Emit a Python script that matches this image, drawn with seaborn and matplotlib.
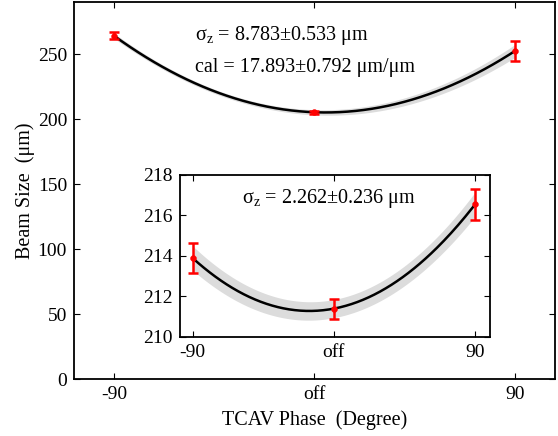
import numpy as np
import pandas as pd
import matplotlib
matplotlib.use("Agg")
import matplotlib.pyplot as plt
import seaborn as sns

# ---- data ----
phase = [-90, 0, 90]
tick_labels = ["-90", "off", "90"]
main_size = [264.0, 205.2, 252.3]
main_err = [2.8, 1.2, 7.5]
main_band = [2.0, 2.0, 5.0]
inset_size = [213.9, 211.4, 216.55]
inset_err = [0.75, 0.5, 0.75]
inset_band = [0.6, 0.45, 0.6]
main_text = [r"σ$_\mathrm{z}$ = 8.783±0.533 μm", "cal = 17.893±0.792 μm/μm"]
inset_text = r"σ$_\mathrm{z}$ = 2.262±0.236 μm"

sns.set_style("white")
plt.rcParams["font.family"] = ["Liberation Serif", "DejaVu Serif"]
plt.rcParams["mathtext.fontset"] = "custom"
plt.rcParams["mathtext.rm"] = "Liberation Serif"
plt.rcParams["font.size"] = 14
for k in ["text.color", "axes.labelcolor", "xtick.color", "ytick.color", "axes.edgecolor"]:
    plt.rcParams[k] = "black"

fig = plt.figure(figsize=(5.58, 4.36), dpi=100)
ax = fig.add_axes([0.1326, 0.1307, 0.862, 0.8647])
axi = fig.add_axes([0.3226, 0.2271, 0.5556, 0.3716])


def draw(a, sizes, errs, band, xlim, ylim, yticks):
    x = np.array(phase, float)
    c = np.polyfit(x, sizes, 2)
    cb = np.polyfit(x, band, 2)
    xs = np.linspace(-90, 90, 200)
    ys = np.polyval(c, xs)
    bs = np.polyval(cb, xs)
    a.fill_between(xs, ys - bs, ys + bs, color="#dcdcdc", lw=0, zorder=1)
    df = pd.DataFrame({"x": xs, "y": ys})
    sns.lineplot(data=df, x="x", y="y", ax=a, color="black", lw=1.8, zorder=2)
    a.errorbar(phase, sizes, yerr=errs, fmt="none", ecolor="red",
               elinewidth=1.8, capsize=3.5, capthick=1.8, zorder=3)
    sns.scatterplot(x=phase, y=sizes, ax=a, color="red", s=18,
                    edgecolor="red", zorder=4)
    a.set_xlim(*xlim)
    a.set_ylim(*ylim)
    a.set_xticks(phase)
    a.set_xticklabels(tick_labels)
    a.set_yticks(yticks)
    a.set_xlabel("")
    a.set_ylabel("")
    a.tick_params(direction="in", length=4, width=0.8, top=True, right=True,
                  bottom=True, left=True, labelsize=14, pad=5, colors="black")
    for s in a.spines.values():
        s.set_visible(True)
        s.set_color("black")
        s.set_linewidth(1.3)


draw(ax, main_size, main_err, main_band, (-108, 108), (0, 290),
     [0, 50, 100, 150, 200, 250])
draw(axi, inset_size, inset_err, inset_band, (-98, 99.5), (210, 218),
     [210, 212, 214, 216, 218])

ax.set_xlabel("TCAV Phase  (Degree)", fontsize=14.5, labelpad=5)
ax.set_ylabel("Beam Size  (μm)", fontsize=14.5, labelpad=2)

ax.text(-53.5, 264, main_text[0], fontsize=14.5, va="center", ha="left")
ax.text(-53.5, 240, main_text[1], fontsize=14.5, va="center", ha="left")
axi.text(-58.7, 216.85, inset_text, fontsize=14.5, va="center", ha="left")

fig.savefig("out.png", dpi=100)
